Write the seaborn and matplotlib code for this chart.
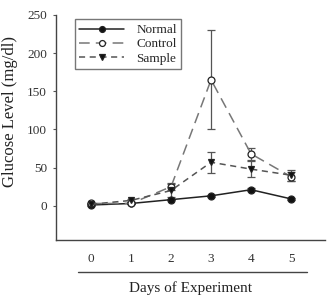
import matplotlib
matplotlib.use("Agg")
import matplotlib.pyplot as plt
import seaborn as sns
import pandas as pd
from matplotlib.lines import Line2D

days = [0, 1, 2, 3, 4, 5]
normal = [1, 3, 8, 13, 21, 9]
normal_err = [1, 1, 1, 1, 2, 1]
control = [3, 3, 25, 165, 68, 38]
control_err = [1, 1, 5, 65, 8, 6]
sample = [2, 7, 20, 57, 48, 40]
sample_err = [1, 2, 8, 14, 10, 7]
yticks = [0, 50, 100, 150, 200, 250]

sns.set_style("white")
plt.rcParams['font.family'] = ['Liberation Serif', 'DejaVu Serif']

fig = plt.figure(figsize=(3.28, 2.99), dpi=100)
ax = fig.add_axes([0.171, 0.197, 0.82, 0.753])

df = pd.DataFrame({
    "day": days * 3,
    "value": normal + control + sample,
    "group": ["Normal"] * 6 + ["Control"] * 6 + ["Sample"] * 6,
})

styles = {
    "Normal": dict(color="#222222", marker="o", mfc="#111111", dashes=None),
    "Control": dict(color="#777777", marker="o", mfc="white", dashes=(7, 4)),
    "Sample": dict(color="#555555", marker="v", mfc="#111111", dashes=(4, 3)),
}
errs = {"Normal": normal_err, "Control": control_err, "Sample": sample_err}

for g in ["Normal", "Control", "Sample"]:
    s = styles[g]
    sub = df[df.group == g]
    ax.errorbar(sub.day, sub.value, yerr=errs[g], fmt="none", ecolor="#555555",
                elinewidth=0.9, capsize=3, capthick=0.9, zorder=2)
    sns.lineplot(data=sub, x="day", y="value", ax=ax, color=s["color"],
                 marker=s["marker"], markersize=5, markerfacecolor=s["mfc"],
                 markeredgecolor="#222222", markeredgewidth=0.9,
                 linewidth=1.1, label=g, zorder=3)
    ln = ax.get_lines()[-1]
    if s["dashes"]:
        ln.set_dashes(s["dashes"])

ax.set_xlim(-0.875, 5.85)
ax.set_ylim(-45, 250)
ax.set_yticks(yticks)
ax.set_xticks(days)
ax.tick_params(axis="both", labelsize=9.5, colors="#333333")
ax.tick_params(axis="x", pad=9, length=0)
ax.tick_params(axis="y", pad=4, length=2.5, width=0.8, left=True, color="#555555")
for sp in ["top", "right"]:
    ax.spines[sp].set_visible(False)
for sp in ["left", "bottom"]:
    ax.spines[sp].set_color("#444444")
    ax.spines[sp].set_linewidth(1.0)

ax.set_xlabel("")
ax.set_ylabel("Glucose Level (mg/dl)", fontsize=12, color="#222222")
ax.yaxis.set_label_coords(-0.14, 0.573)

ax.add_line(Line2D([0.082, 0.933], [-0.142, -0.142], transform=ax.transAxes,
                   color="#444444", lw=1.0, clip_on=False))
ax.text(0.5, -0.215, "Days of Experiment", transform=ax.transAxes, ha="center",
        va="center", fontsize=11, color="#222222")

leg = ax.legend(loc="upper left", bbox_to_anchor=(0.045, 1.01), frameon=True,
                fancybox=False, edgecolor="#555555", fontsize=9.5, handlelength=3.4,
                borderpad=0.35, labelspacing=0.15, handletextpad=0.9, markerscale=0.85)
leg.get_frame().set_linewidth(1.0)

fig.savefig("out.png", dpi=100)
